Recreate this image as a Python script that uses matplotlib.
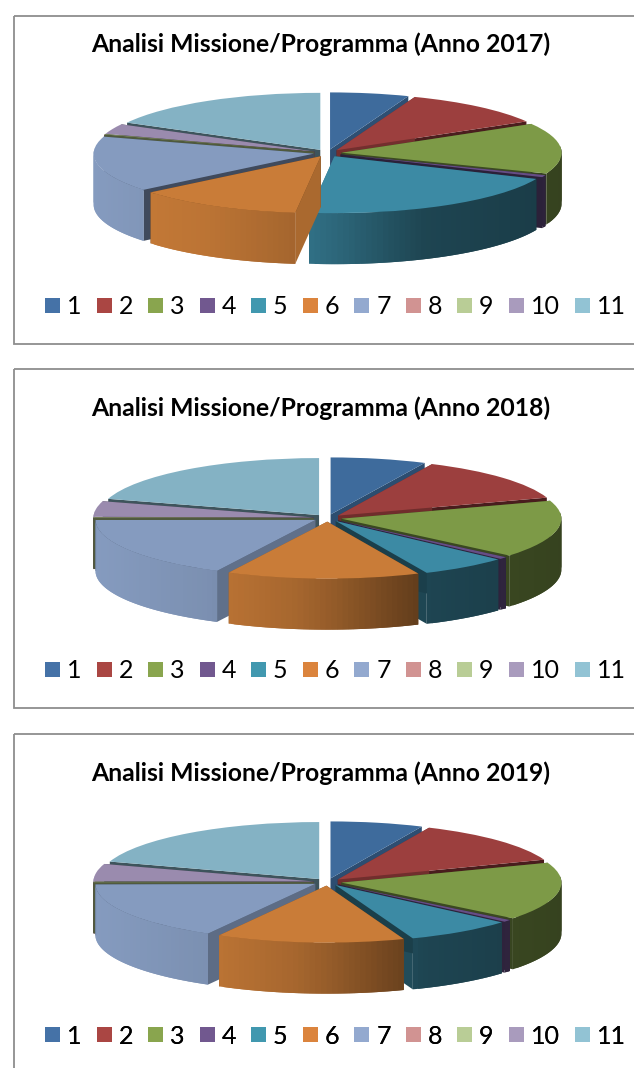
import numpy as np
import matplotlib
matplotlib.use("Agg")
import matplotlib.pyplot as plt
from matplotlib.patches import Patch, Rectangle

labels = ["1", "2", "3", "4", "5", "6", "7", "8", "9", "10", "11"]
years = ["2017", "2018", "2019"]

values_2017 = [5.8, 10.8, 14.4, 0.6, 20.35, 12.25, 15.8, 0.1, 0.1, 2.9, 17.1]
values_2018 = [7.0, 12.8, 16.2, 0.6, 6.4, 14.1, 17.5, 0.1, 0.1, 4.4, 20.3]
values_2019 = [6.8, 12.5, 16.4, 0.6, 7.9, 13.8, 16.7, 0.1, 0.1, 4.9, 20.0]

top_colors = ["#3e6b9c", "#9c3f3e", "#7d9a47", "#664e86", "#3c8aa4", "#c97c38",
              "#859bbf", "#c48a89", "#a8be82", "#9a8bae", "#84b2c4"]
legend_colors = ["#4572a7", "#aa4643", "#89a54e", "#71588f", "#4198af", "#db843d",
                 "#93a9cf", "#d19392", "#b9cd96", "#a99bbd", "#92c3d4"]

W, H = 634, 1068
RX, RY, DEPTH = 220.0, 57.0, 51.0
EXPLODE = 0.064
CX = 327.5


def shaded(color, f):
    return np.clip(np.array(matplotlib.colors.to_rgb(color)) * f, 0, 1)


def rim_shade(x):
    # outer wall gets darker to the right
    return np.interp(x, [-1, -0.5, -0.15, 0, 0.4, 1], [1.0, 0.93, 0.83, 0.75, 0.5, 0.43])


def wall_shade(t):
    # t is clockwise from the top, in degrees
    return np.interp(t, [0, 22, 59, 113, 155, 187, 207, 230, 298, 360],
                     [0.74, 0.74, 0.48, 0.42, 0.5, 0.85, 0.72, 0.48, 0.47, 0.5])


def add_px_axes(fig, x0, x1, y0, y1):
    return fig.add_axes([x0 / W, 1 - y1 / H, (x1 - x0) / W, (y1 - y0) / H])


def draw_pie(fig, values, cy):
    x0, x1 = 60, 600
    y0, y1 = cy - 80, cy + 125
    ax = add_px_axes(fig, x0, x1, y0, y1)
    ax.patch.set_alpha(0)
    explode = [EXPLODE] * len(values)
    wedges, _ = ax.pie(values, explode=explode, colors=top_colors, startangle=90,
                       counterclock=False, wedgeprops={"linewidth": 0})
    ax.set_aspect("auto")
    ax.set_xlim((x0 - CX) / RX, (x1 - CX) / RX)
    ax.set_ylim((cy - y1) / RY, (cy - y0) / RY)
    ax.axis("off")

    depth = DEPTH / RY
    mids = [np.sin(np.radians((w.theta1 + w.theta2) / 2)) for w in wedges]
    # slice 9 sits over slice 8 in the original
    mids[8] -= 0.05
    order = np.argsort(mids)[::-1]

    for n, i in enumerate(order):
        w = wedges[i]
        base = top_colors[i]
        z = 3 + n * 3
        cx, cy0 = w.center

        for th in (w.theta1, w.theta2):
            px = cx + np.cos(np.radians(th))
            py = cy0 + np.sin(np.radians(th))
            c = shaded(base, wall_shade(90 - th))
            ax.fill([cx, px, px, cx], [cy0, py, py - depth, cy0 - depth],
                    color=c, lw=0, zorder=z)

        sweep = w.theta2 - w.theta1
        if sweep > 1:
            steps = int(sweep / 1.5) + 2
            ths = np.linspace(w.theta1, w.theta2, steps)
            for a, b in zip(ths[:-1], ths[1:]):
                if np.sin(np.radians((a + b) / 2)) > 0.1:
                    continue
                # overlap the next strip so no seams show
                seg = np.radians(np.linspace(a, min(b + 1.5, w.theta2), 5))
                xs = cx + np.cos(seg)
                ys = cy0 + np.sin(seg)
                c = shaded(base, rim_shade(np.cos(np.radians((a + b) / 2))))
                ax.fill(np.r_[xs, xs[::-1]], np.r_[ys, ys[::-1] - depth],
                        color=c, lw=0, zorder=z + 1)

        w.set_zorder(z + 2)


def main():
    plt.rcParams["font.family"] = "Lato"
    fig = plt.figure(figsize=(W / 100, H / 100), dpi=100, facecolor="white")

    bg = fig.add_axes([0, 0, 1, 1])
    bg.set_xlim(0, W)
    bg.set_ylim(H, 0)
    bg.axis("off")

    all_values = [values_2017, values_2018, values_2019]
    tops = [16, 369, 734]
    bottoms = [344, 708, 1100]
    centers = [153, 518, 882]
    title_y = [44, 408, 773]
    legend_y = [307, 671, 1036]

    for k in range(3):
        bg.add_patch(Rectangle((13.5, tops[k]), 700, bottoms[k] - tops[k], fill=False,
                               ec="#8e8e8e", lw=1.3))
        bg.text(321, title_y[k], "Analisi Missione/Programma (Anno %s)" % years[k],
                ha="center", va="center", fontsize=17.8, fontweight="bold", color="black")
        draw_pie(fig, all_values[k], centers[k])

        handles = [Patch(color=c, lw=0) for c in legend_colors]
        bg.legend(handles, labels, ncol=11, frameon=False, fontsize=18,
                  loc="center left", bbox_to_anchor=(45 / W, 1 - legend_y[k] / H),
                  bbox_transform=fig.transFigure, borderaxespad=0, borderpad=0,
                  handlelength=0.6, handleheight=0.52, handletextpad=0.28,
                  columnspacing=0.6, labelcolor="black")
        bg.add_artist(bg.get_legend())

    fig.savefig("out.png", dpi=100)


if __name__ == "__main__":
    main()
